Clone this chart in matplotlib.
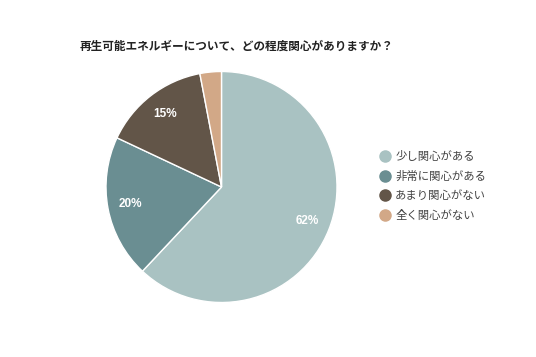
import matplotlib
matplotlib.use("Agg")
import matplotlib.pyplot as plt
from matplotlib.lines import Line2D

plt.rcParams['font.family'] = ['Noto Sans CJK JP', 'DejaVu Sans']

title = "再生可能エネルギーについて、どの程度関心がありますか？"
categories = ["少し関心がある", "非常に関心がある", "あまり関心がない", "全く関心がない"]
values = [62, 20, 15, 3]
colors = ["#a9c2c2", "#6a8e92", "#625548", "#d2a887"]

fig = plt.figure(figsize=(5.36, 3.57), dpi=100)
W, H = 536, 357
cx, cy, r = 221.5, 187.0, 115.5
ax = fig.add_axes([(cx - r) / W, 1 - (cy + r) / H, 2 * r / W, 2 * r / H])

wedges, texts, autotexts = ax.pie(
    values, colors=colors, startangle=90, counterclock=False,
    autopct=lambda p: f"{p:.0f}%" if p >= 5 else "",
    pctdistance=0.8,
    wedgeprops=dict(edgecolor="white", linewidth=1.0),
    textprops=dict(color="white", fontsize=8.5, fontweight="bold", family=['Liberation Sans', 'DejaVu Sans']),
)
ax.set_xlim(-1, 1)
ax.set_ylim(-1, 1)
ax.set_aspect('equal')

fig.text(80 / W, 1 - 46 / H, title, fontsize=8.4, fontweight="bold",
         ha="left", va="center", color="#222222")

handles = [Line2D([], [], marker='o', linestyle='none', markersize=8,
                  markerfacecolor=c, markeredgecolor=c) for c in colors]
fig.legend(handles, categories, loc="upper left",
           bbox_to_anchor=(374 / W, 1 - 146 / H), frameon=False,
           fontsize=8.2, labelcolor="#444444", handletextpad=0.25,
           labelspacing=0.78, borderaxespad=0, handlelength=1.2)

fig.savefig("out.png", dpi=100)
